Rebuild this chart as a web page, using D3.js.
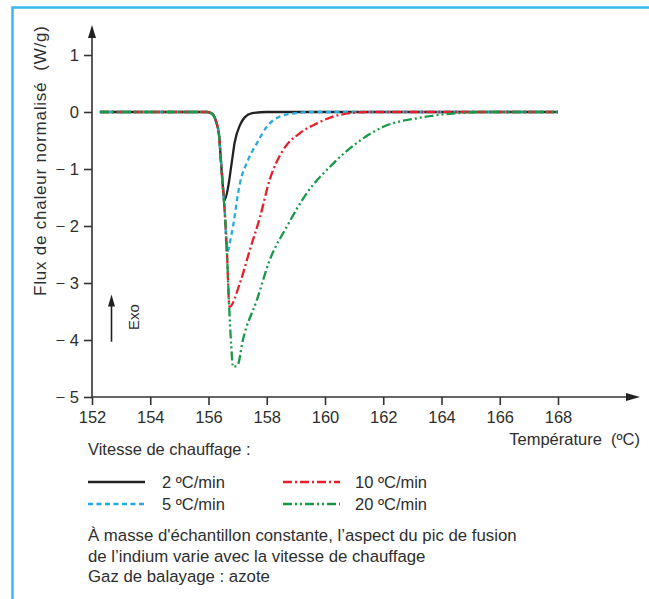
<!DOCTYPE html>
<html>
<head>
<meta charset="utf-8">
<script src="https://cdn.jsdelivr.net/npm/d3@7"></script>
<style>
  body { margin: 0; background: #fff; }
  text { font-family: "Liberation Sans", Arial, Helvetica, sans-serif; fill: #2e2e2e; }
</style>
</head>
<body>
<div id="wrapper"></div>
<script>
// leading edge common to every curve, then each series' own return to baseline
const rates = ["2 ºC/min", "5 ºC/min", "10 ºC/min", "20 ºC/min"]
const colors = ["#222222", "#29abe2", "#e5202a", "#17994a"]
const dashes = [null, "5,3.5", "9,3,2,3", "9,3,2,3,2,3"]

const temp2 = [152.27, 155.95, 156.12, 156.25, 156.36, 156.43, 156.5, 156.55, 156.67, 156.8, 156.9, 157.08, 157.25, 157.5, 158.0, 168.0]
const flux2 = [0, 0, -0.03, -0.15, -0.4, -0.88, -1.35, -1.55, -1.33, -0.88, -0.53, -0.23, -0.09, -0.02, 0, 0]

const temp5 = [152.27, 155.95, 156.12, 156.25, 156.36, 156.43, 156.5, 156.57, 156.63, 156.8, 157.08, 157.36, 157.66, 158.0, 158.45, 159.0, 159.5, 168.0]
const flux5 = [0, 0, -0.03, -0.15, -0.4, -0.88, -1.35, -1.85, -2.47, -2.12, -1.25, -0.84, -0.55, -0.26, -0.08, -0.02, 0, 0]

const temp10 = [152.27, 155.95, 156.12, 156.25, 156.36, 156.43, 156.5, 156.57, 156.63, 156.72, 157.08, 157.42, 157.77, 158.1, 158.56, 159.14, 159.72, 160.5, 161.5, 168.0]
const flux10 = [0, 0, -0.03, -0.15, -0.4, -0.88, -1.35, -1.85, -2.42, -3.42, -3.0, -2.42, -1.84, -1.19, -0.67, -0.37, -0.2, -0.05, 0, 0]

const temp20 = [152.27, 155.95, 156.12, 156.25, 156.36, 156.43, 156.5, 156.57, 156.63, 156.7, 156.78, 156.84, 157.0, 157.18, 157.66, 158.1, 158.68, 159.38, 160.17, 161.1, 162.0, 163.26, 164.6, 165.5, 168.0]
const flux20 = [0, 0, -0.03, -0.15, -0.4, -0.88, -1.35, -1.85, -2.42, -3.3, -4.1, -4.47, -4.44, -4.0, -3.3, -2.6, -2.02, -1.42, -0.96, -0.54, -0.26, -0.1, -0.02, 0, 0]

const xTicks = [152, 154, 156, 158, 160, 162, 164, 166, 168]
const yTicks = [1, 0, -1, -2, -3, -4, -5]

const notes = [
    "À masse d'échantillon constante, l’aspect du pic de fusion",
    "de l’indium varie avec la vitesse de chauffage",
    "Gaz de balayage : azote"
]

const series = [
    {temp: temp2, flux: flux2},
    {temp: temp5, flux: flux5},
    {temp: temp10, flux: flux10},
    {temp: temp20, flux: flux20},
]

let dimensions = {
    width: 649,
    height: 599,
    margin: {top: 55, right: 91, bottom: 202, left: 92},
}
dimensions.boundedWidth = dimensions.width - dimensions.margin.left - dimensions.margin.right
dimensions.boundedHeight = dimensions.height - dimensions.margin.top - dimensions.margin.bottom

const wrapper = d3.select("#wrapper")
    .append("svg")
    .attr("width", dimensions.width)
    .attr("height", dimensions.height)

// blue frame, top and left
wrapper.append("path")
    .attr("d", "M12.5,599 L12.5,7.5 L649,7.5")
    .attr("fill", "none")
    .attr("stroke", "#3db8ea")
    .attr("stroke-width", 2.5)

const bounds = wrapper.append("g")
    .attr("transform", `translate(${dimensions.margin.left},${dimensions.margin.top})`)

const xScale = d3.scaleLinear()
    .domain([152, 168])
    .range([0, dimensions.boundedWidth])

const yScale = d3.scaleLinear()
    .domain([-5, 1])
    .range([dimensions.boundedHeight, 0])

const yFormat = d => d < 0 ? "\u2212 " + Math.abs(d) : d

const yAxis = bounds.append("g")
    .call(d3.axisLeft(yScale).tickValues(yTicks).tickFormat(yFormat).tickSize(8).tickPadding(5).tickSizeOuter(0))
const xAxis = bounds.append("g")
    .attr("transform", `translate(0,${dimensions.boundedHeight})`)
    .call(d3.axisBottom(xScale).tickValues(xTicks).tickSize(8).tickPadding(6).tickSizeOuter(0))

bounds.selectAll(".domain").remove()
bounds.selectAll(".tick line").attr("stroke", "#333").attr("stroke-width", 1.6)
bounds.selectAll(".tick text").style("font-size", "16.5px").attr("fill", "#2e2e2e")

// axis lines with arrow heads
const x0 = xScale(152), yBase = yScale(-5)
bounds.append("line")
    .attr("x1", x0).attr("x2", x0)
    .attr("y1", yBase).attr("y2", yScale(1) - 20)
    .attr("stroke", "#333").attr("stroke-width", 1.6)
bounds.append("path")
    .attr("d", `M${x0},${yScale(1) - 30} l-4,13 l8,0 Z`)
    .attr("fill", "#222")
bounds.append("line")
    .attr("x1", x0).attr("x2", dimensions.boundedWidth + 72)
    .attr("y1", yBase).attr("y2", yBase)
    .attr("stroke", "#333").attr("stroke-width", 1.6)
bounds.append("path")
    .attr("d", `M${dimensions.boundedWidth + 82},${yBase} l-14,-4 l0,8 Z`)
    .attr("fill", "#222")

// the curves
const lineGenerator = d3.line()
    .x(d => xScale(d[0]))
    .y(d => yScale(d[1]))
    .curve(d3.curveMonotoneX)

series.forEach((s, i) => {
    const pts = s.temp.map((t, j) => [t, s.flux[j]])
    bounds.append("path")
        .attr("d", lineGenerator(pts))
        .attr("fill", "none")
        .attr("stroke", colors[i])
        .attr("stroke-width", 2.3)
        .attr("stroke-dasharray", dashes[i])
        .attr("stroke-linejoin", "round")
})

// Exo arrow
bounds.append("line")
    .attr("x1", 19.5).attr("x2", 19.5)
    .attr("y1", yScale(-4.03)).attr("y2", yScale(-3.4))
    .attr("stroke", "#222").attr("stroke-width", 1.6)
bounds.append("path")
    .attr("d", `M19.5,${yScale(-3.2)} l-3.5,12 l7,0 Z`)
    .attr("fill", "#222")
bounds.append("text")
    .attr("transform", `translate(47,${yScale(-3.6)}) rotate(-90)`)
    .attr("text-anchor", "middle")
    .style("font-size", "15px")
    .text("Exo")

// axis titles
wrapper.append("text")
    .attr("transform", `translate(46,161) rotate(-90)`)
    .attr("text-anchor", "middle")
    .attr("textLength", 270)
    .attr("lengthAdjust", "spacing")
    .style("font-size", "17px")
    .style("white-space", "pre")
    .text("Flux de chaleur normalisé  (W/g)")

wrapper.append("text")
    .attr("x", 640).attr("y", 445)
    .attr("text-anchor", "end")
    .style("font-size", "16.5px")
    .style("white-space", "pre")
    .text("Température  (ºC)")

// legend
wrapper.append("text")
    .attr("x", 88).attr("y", 455)
    .style("font-size", "16.5px")
    .text("Vitesse de chauffage :")

const legend = wrapper.append("g")
const legendX = [88, 283]
rates.forEach((r, i) => {
    const col = i < 2 ? 0 : 1
    const row = i % 2
    const g = legend.append("g")
        .attr("transform", `translate(${legendX[col]},${482 + row * 22})`)
    g.append("line")
        .attr("x1", 0).attr("x2", 57)
        .attr("stroke", colors[i])
        .attr("stroke-width", 2.3)
        .attr("stroke-dasharray", dashes[i])
    g.append("text")
        .attr("x", col === 0 ? 74 : 72).attr("y", 6)
        .style("font-size", "16.5px")
        .text(r)
})

// notes
wrapper.selectAll(".note")
    .data(notes)
    .join("text")
    .attr("class", "note")
    .attr("x", 88)
    .attr("y", (d, i) => 541 + i * 20.5)
    .style("font-size", "16.8px")
    .text(d => d)
</script>
</body>
</html>
